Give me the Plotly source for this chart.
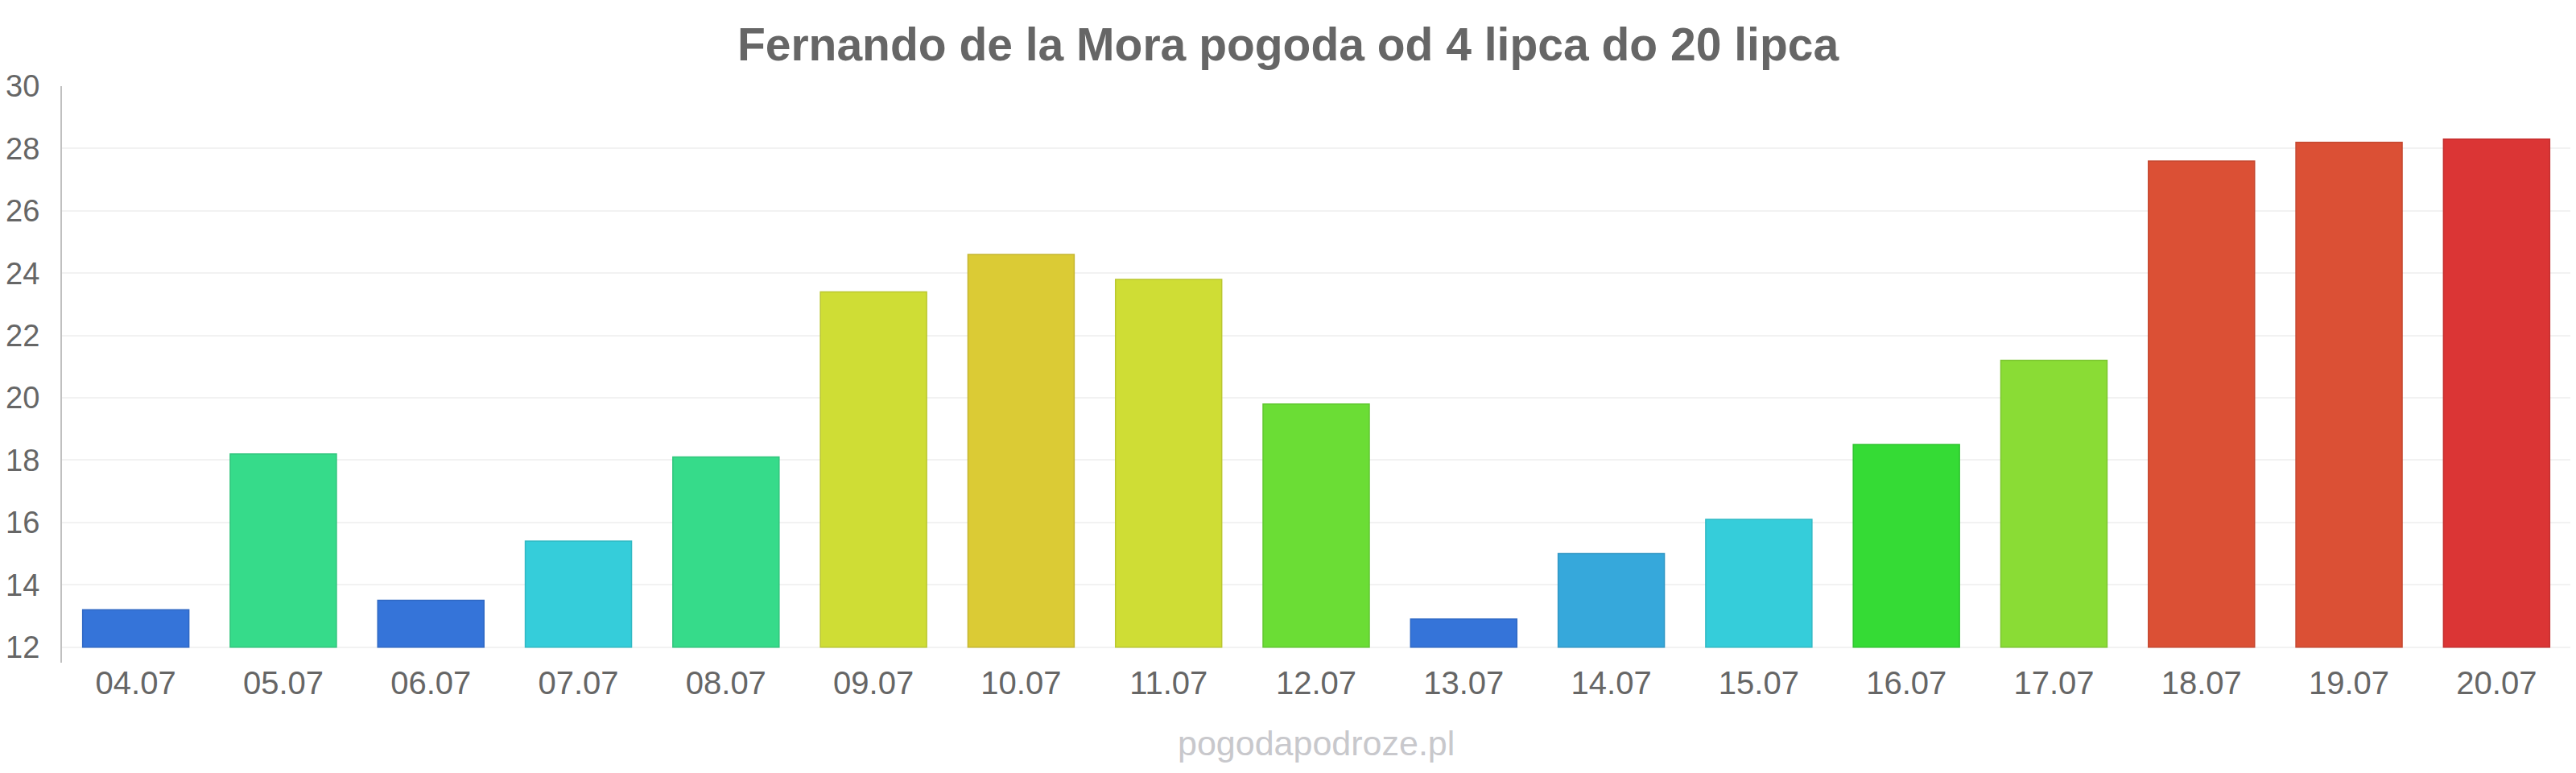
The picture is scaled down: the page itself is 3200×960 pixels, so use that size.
import plotly.graph_objects as go

dates = ["04.07", "05.07", "06.07", "07.07", "08.07", "09.07", "10.07", "11.07", "12.07",
         "13.07", "14.07", "15.07", "16.07", "17.07", "18.07", "19.07", "20.07"]
temps = [13.2, 18.2, 13.5, 15.4, 18.1, 23.4, 24.6, 23.8, 19.8,
         12.9, 15.0, 16.1, 18.5, 21.2, 27.6, 28.2, 28.3]
y_ticks = [12, 14, 16, 18, 20, 22, 24, 26, 28, 30]

bar_colors = ["#3574d9", "#36db8a", "#3574d9", "#35cdda", "#36db8a", "#cfdd35", "#dbcb35",
              "#cfdd35", "#6bdd35", "#3574d9", "#36a8db", "#35cdda", "#35db35", "#8adc35",
              "#db5035", "#db5035", "#db3535"]
edge_colors = ["#2f68c4", "#30c57c", "#2f68c4", "#30b9c4", "#30c57c", "#bac730", "#c5b630",
               "#bac730", "#60c730", "#2f68c4", "#3097c5", "#30b9c4", "#30c530", "#7cc630",
               "#c54830", "#c54830", "#c53030"]

base = y_ticks[0]

fig = go.Figure()
fig.add_trace(go.Bar(
    x=dates,
    y=[t - base for t in temps],
    base=base,
    marker=dict(color=bar_colors, line=dict(color=edge_colors, width=1.5)),
    hoverinfo="skip",
))

fig.update_layout(
    width=3200, height=960,
    margin=dict(l=77, r=7, t=107, b=137),
    paper_bgcolor="white", plot_bgcolor="white",
    showlegend=False,
    bargap=0.28,
    font=dict(family="Liberation Sans, Arial, sans-serif", color="#666666"),
    title=dict(text="<b>Fernando de la Mora pogoda od 4 lipca do 20 lipca</b>",
               x=0.5, xanchor="center", y=1 - 55 / 960, yanchor="middle",
               font=dict(size=57, color="#666666")),
    xaxis=dict(showgrid=False, showline=False, zeroline=False,
               tickfont=dict(size=40, color="#666666"), ticks="",
               ticklabelstandoff=-2),
    yaxis=dict(range=[11.5, 30], tickvals=y_ticks, showgrid=True,
               gridcolor="#f2f2f2", gridwidth=2, zeroline=False,
               showline=True, linecolor="#c0c0c0", linewidth=2,
               tickfont=dict(size=38, color="#666666"), ticks="",
               ticklabelstandoff=18),
    annotations=[dict(text="pogodapodroze.pl", xref="paper", yref="paper",
                      x=0.5, y=-(923 - 823) / 716, xanchor="center", yanchor="middle",
                      showarrow=False, font=dict(size=43, color="#c8c8cc"))],
)

fig.write_html("out.html")
